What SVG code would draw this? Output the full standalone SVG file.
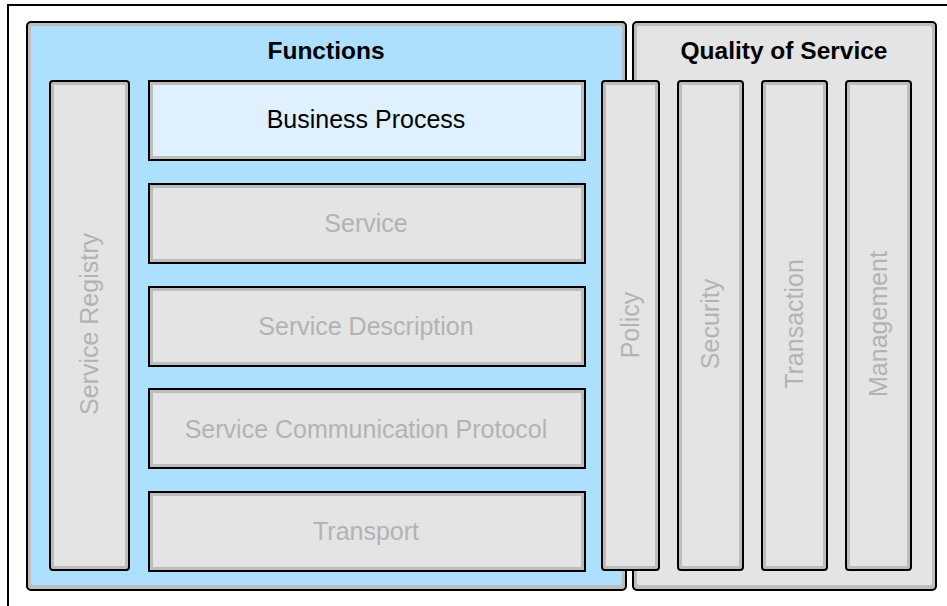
<svg xmlns="http://www.w3.org/2000/svg" width="947" height="606" viewBox="0 0 947 606">
<style>
.frame{fill:none;stroke:#000;stroke-width:2}
.edge{fill:#bdbdbd;stroke:#000;stroke-width:2}
.blue{fill:#addfff}
.light{fill:#dff0fe}
.grey{fill:#e4e4e4}
text{font-family:"Liberation Sans",Arial,sans-serif;font-size:25px;text-anchor:middle}
.title{font-weight:bold;fill:#000;font-size:24.5px}
.dark{fill:#000}
.dim{fill:#b3b3b3}
</style>
<rect x="0" y="0" width="947" height="606" fill="#fff"/>
<path class="frame" d="M8,606 V5 H947"/>
<g id="functions">
<rect class="edge" x="27" y="22" width="599" height="568" rx="4"/>
<rect class="blue" x="31" y="26" width="591" height="559" rx="2"/>
<text class="title" x="326" y="59">Functions</text>
</g>
<g id="quality-of-service">
<rect class="edge" x="633" y="22" width="303" height="568" rx="4"/>
<rect class="grey" x="637" y="26" width="295" height="559" rx="2"/>
<text class="title" x="784" y="59">Quality of Service</text>
</g>
<g id="service-registry">
<rect class="edge" x="50" y="81" width="79" height="489" rx="3"/>
<rect class="grey" x="54" y="85" width="71" height="481"/>
<text class="dim" transform="translate(98,324) rotate(-90)">Service Registry</text>
</g>
<g id="business-process">
<rect class="edge" x="149" y="81" width="436" height="79"/>
<rect class="light" x="153" y="85" width="428" height="71"/>
<text class="dark" x="366" y="128">Business Process</text>
</g>
<g id="service">
<rect class="edge" x="149" y="184" width="436" height="79"/>
<rect class="grey" x="153" y="188" width="428" height="71"/>
<text class="dim" x="366" y="232">Service</text>
</g>
<g id="service-description">
<rect class="edge" x="149" y="287" width="436" height="79"/>
<rect class="grey" x="153" y="291" width="428" height="71"/>
<text class="dim" x="366" y="335">Service Description</text>
</g>
<g id="service-communication-protocol">
<rect class="edge" x="149" y="389" width="436" height="79"/>
<rect class="grey" x="153" y="393" width="428" height="71"/>
<text class="dim" x="366" y="438">Service Communication Protocol</text>
</g>
<g id="transport">
<rect class="edge" x="149" y="492" width="436" height="79"/>
<rect class="grey" x="153" y="496" width="428" height="71"/>
<text class="dim" x="366" y="540">Transport</text>
</g>
<g id="policy">
<rect class="edge" x="602" y="81" width="57" height="489" rx="3"/>
<rect class="grey" x="606" y="85" width="49" height="481"/>
<text class="dim" transform="translate(639,325) rotate(-90)">Policy</text>
</g>
<g id="security">
<rect class="edge" x="678" y="81" width="65" height="489" rx="3"/>
<rect class="grey" x="682" y="85" width="57" height="481"/>
<text class="dim" transform="translate(719,324) rotate(-90)">Security</text>
</g>
<g id="transaction">
<rect class="edge" x="762" y="81" width="65" height="489" rx="3"/>
<rect class="grey" x="766" y="85" width="57" height="481"/>
<text class="dim" transform="translate(803,324) rotate(-90)">Transaction</text>
</g>
<g id="management">
<rect class="edge" x="846" y="81" width="65" height="489" rx="3"/>
<rect class="grey" x="850" y="85" width="57" height="481"/>
<text class="dim" transform="translate(887,324) rotate(-90)">Management</text>
</g>
<g id="connectors"/>
</svg>
